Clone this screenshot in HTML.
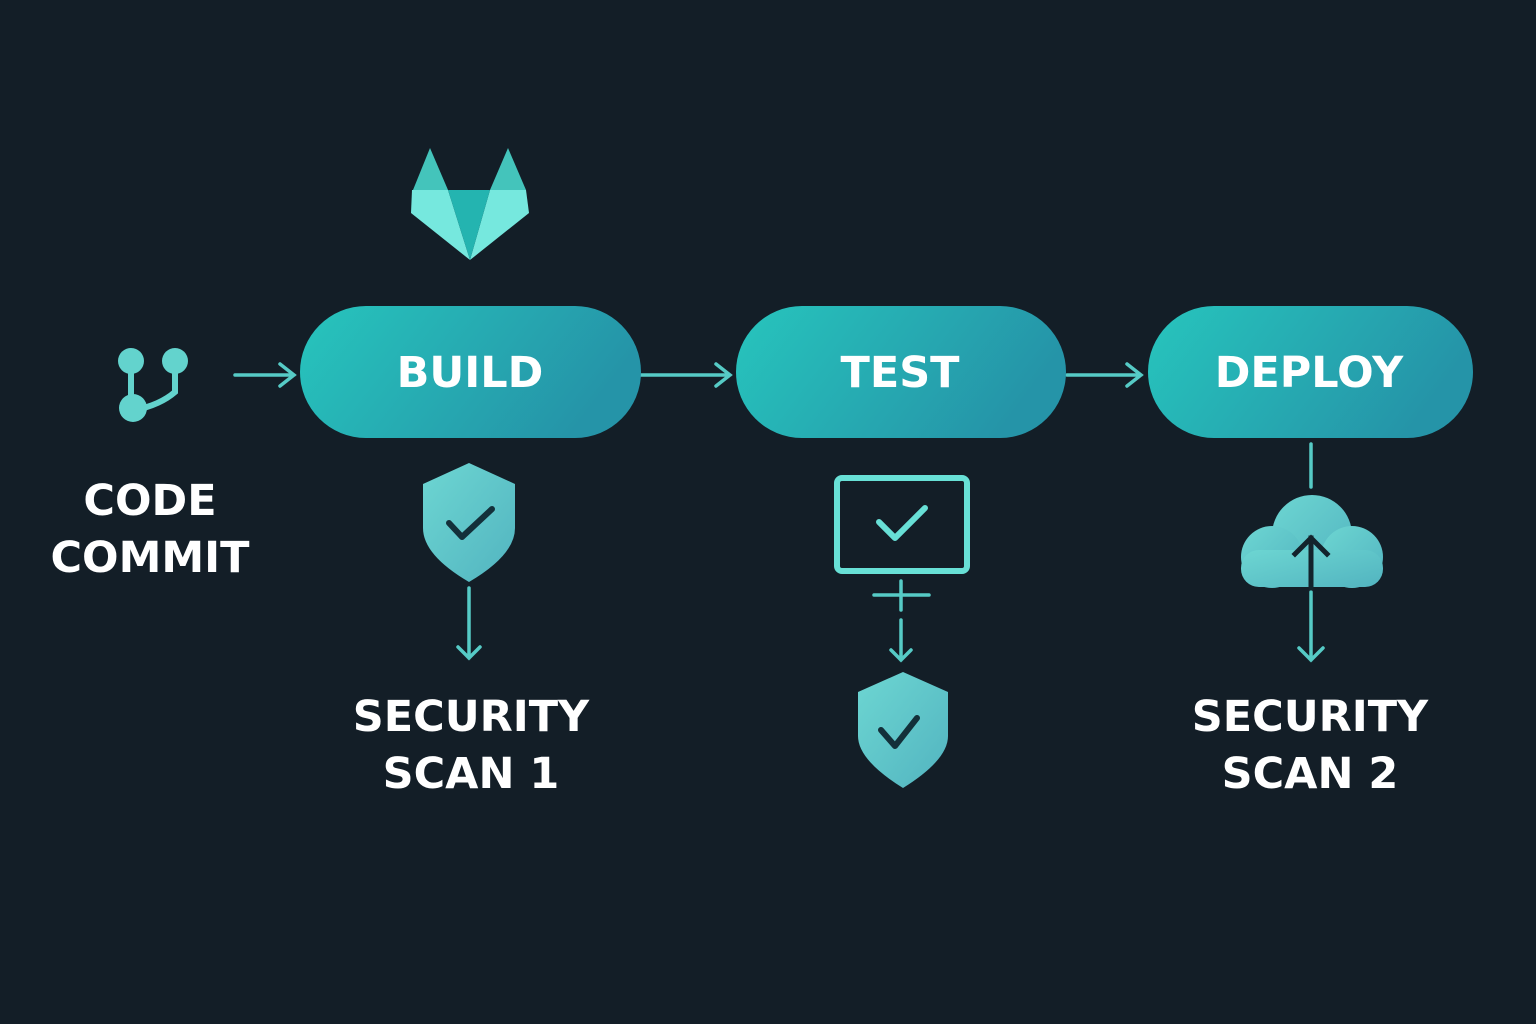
<!DOCTYPE html>
<html><head><meta charset="utf-8"><style>
html,body{margin:0;padding:0;background:#131e27;}
svg{display:block}
text{font-family:"DejaVu Sans","Liberation Sans",sans-serif;font-weight:bold;}
</style></head><body>
<svg width="1536" height="1024" viewBox="0 0 1536 1024" xmlns="http://www.w3.org/2000/svg">
<defs>
<linearGradient id="pg" x1="0" y1="0" x2="1" y2="0.3">
<stop offset="0" stop-color="#27c5bd"/><stop offset="1" stop-color="#2594a8"/>
</linearGradient>
<linearGradient id="sg" x1="0" y1="0" x2="1" y2="1">
<stop offset="0" stop-color="#6dd6d2"/><stop offset="1" stop-color="#52b4c0"/>
</linearGradient>
</defs>
<rect width="1536" height="1024" fill="#131e27"/>

<!-- GitLab logo -->
<g>
<polygon points="430,148 448,190 413,190" fill="#44c4bb"/>
<polygon points="508,148 490,190 526,190" fill="#44c4bb"/>
<polygon points="412,190 448,190 470,260 411,213" fill="#76e8de"/>
<polygon points="526,190 490,190 470,260 529,213" fill="#76e8de"/>
<polygon points="448,190 490,190 470,260" fill="#24b4b0"/>
</g>

<!-- commit icon -->
<g fill="#63d3cd" stroke="#63d3cd">
<circle cx="131" cy="361" r="13" stroke="none"/>
<circle cx="175" cy="361" r="13" stroke="none"/>
<circle cx="133" cy="408" r="14" stroke="none"/>
<path d="M131,361 V405 M175,361 V392 Q160,405 135,410" fill="none" stroke-width="6"/>
</g>

<!-- arrows between -->
<g stroke="#56cbc6" stroke-width="3.5" fill="none" stroke-linecap="round">
<path d="M235,375 H294 M280,364 L294,375 L280,386"/>
<path d="M641,375 H730 M716,364 L730,375 L716,386"/>
<path d="M1067,375 H1141 M1127,364 L1141,375 L1127,386"/>
</g>

<!-- pills -->
<rect x="300" y="306" width="341" height="132" rx="66" fill="url(#pg)"/>
<rect x="736" y="306" width="330" height="132" rx="66" fill="url(#pg)"/>
<rect x="1148" y="306" width="325" height="132" rx="66" fill="url(#pg)"/>
<g fill="#ffffff" font-size="43" text-anchor="middle">
<text x="470" y="387">BUILD</text>
<text x="900" y="387">TEST</text>
<text x="1309" y="387">DEPLOY</text>
</g>

<!-- labels -->
<g fill="#ffffff" font-size="43" text-anchor="middle">
<text x="150" y="515">CODE</text>
<text x="150" y="572">COMMIT</text>
<text x="471" y="731">SECURITY</text>
<text x="471" y="788">SCAN 1</text>
<text x="1310" y="731">SECURITY</text>
<text x="1310" y="788">SCAN 2</text>
</g>

<!-- shield 1 -->
<path d="M469,463 L515,484 L515,528 Q515,555 469,582 Q423,555 423,528 L423,484 Z" fill="url(#sg)"/>
<path d="M449,523 L462,537 L492,509" fill="none" stroke="#13303a" stroke-width="6" stroke-linecap="round" stroke-linejoin="round"/>
<g stroke="#56cbc6" stroke-width="3.5" fill="none" stroke-linecap="round">
<path d="M469,588 V658 M458,647 L469,658 L480,647"/>
</g>

<!-- monitor -->
<rect x="837" y="478" width="130" height="93" rx="5" fill="none" stroke="#68e0d6" stroke-width="6"/>
<path d="M879,522 L895,538 L925,508" fill="none" stroke="#68e0d6" stroke-width="6" stroke-linecap="round" stroke-linejoin="round"/>
<g stroke="#56cbc6" stroke-width="3.5" fill="none" stroke-linecap="round">
<path d="M874,595 H929 M901,581 V610"/>
<path d="M901,620 V660 M891,650 L901,660 L911,650"/>
</g>

<!-- shield 2 -->
<path d="M903,672 L948,692 L948,736 Q948,760 903,788 Q858,760 858,736 L858,692 Z" fill="url(#sg)"/>
<path d="M881,730 L895,746 L917,718" fill="none" stroke="#13303a" stroke-width="6" stroke-linecap="round" stroke-linejoin="round"/>

<!-- deploy connectors -->
<g stroke="#56cbc6" stroke-width="3.5" fill="none" stroke-linecap="round">
<path d="M1311,444 V487"/>
<path d="M1311,592 V660 M1299,648 L1311,660 L1323,648"/>
</g>
<!-- cloud -->
<g fill="url(#sg)">
<circle cx="1312" cy="535" r="40"/>
<circle cx="1272" cy="557" r="31"/>
<circle cx="1352" cy="557" r="31"/>
<rect x="1241" y="550" width="142" height="37" rx="18"/>
</g>
<path d="M1311,588 V538 M1295,554 L1311,538 L1327,554" fill="none" stroke="#13232c" stroke-width="5" stroke-linecap="square"/>
</svg>
</body></html>
